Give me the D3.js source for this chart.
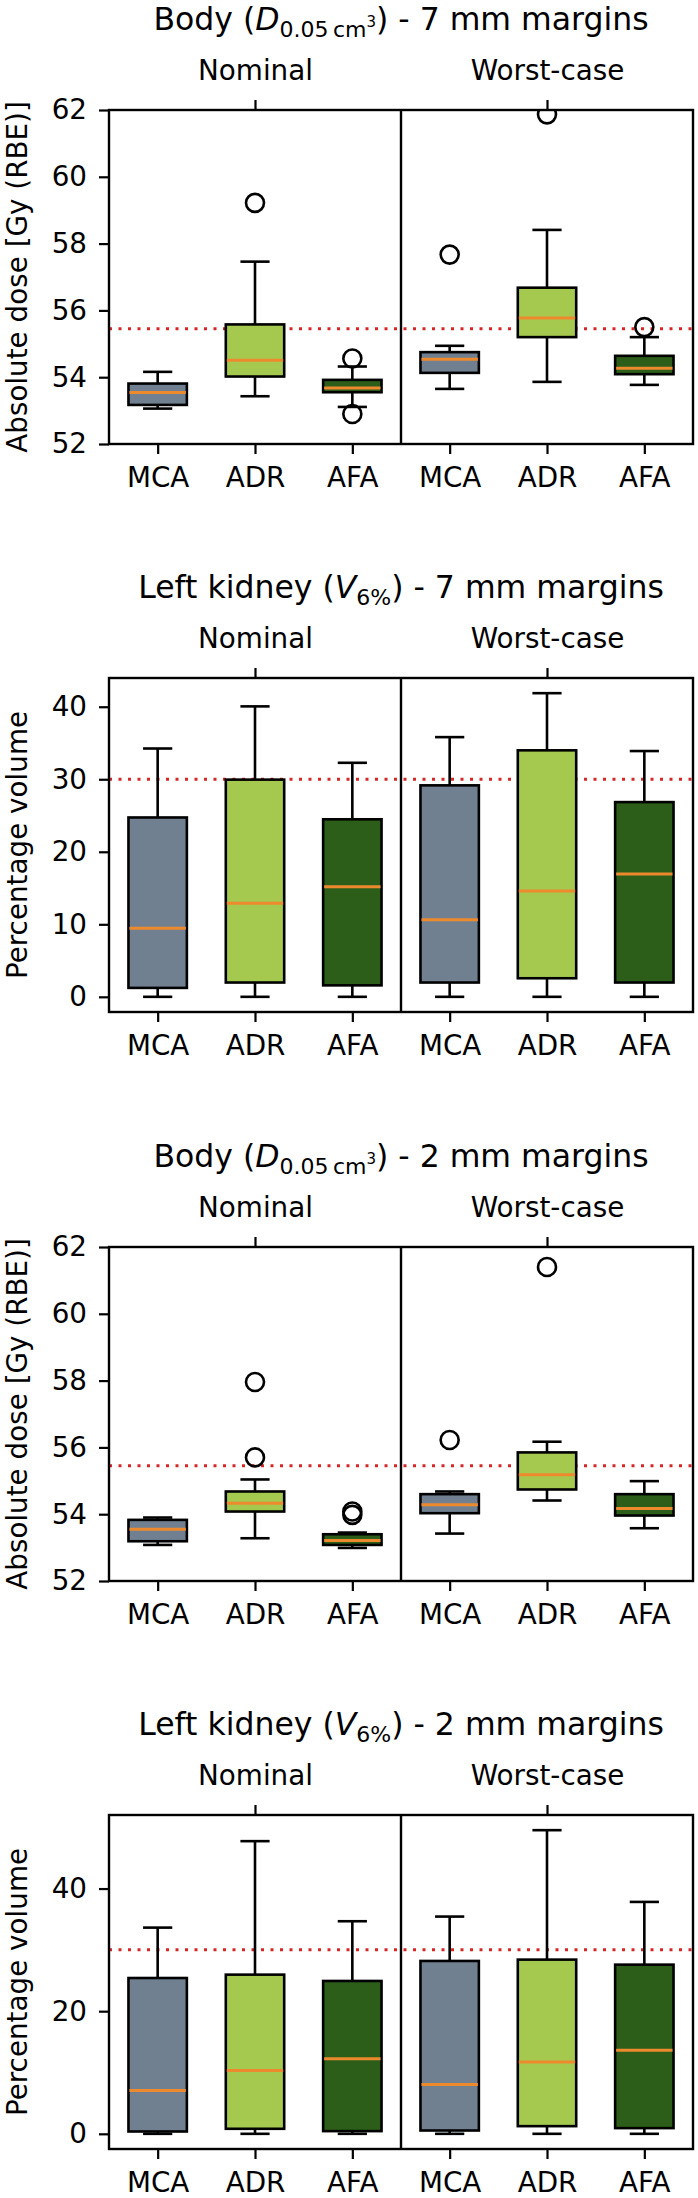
<!DOCTYPE html>
<html>
<head>
<meta charset="utf-8">
<script src="https://cdn.jsdelivr.net/npm/d3@7"></script>
<style>
  body { margin: 0; background: #fff; }
  text { font-family: "DejaVu Sans", sans-serif; fill: #000; }
</style>
</head>
<body>
<div id="chart"></div>
<script>
var fullwidth = 698,
    fullheight = 2198;

var groups = ["MCA", "ADR", "AFA", "MCA", "ADR", "AFA"];
var scenarios = ["Nominal", "Worst-case"];
var boxColors = ["#708090", "#a5c94f", "#2c5e1a"];

// each box: [lower whisker, q1, median, q3, upper whisker, outliers]
var body7mm = [
    [53.06, 53.17, 53.54, 53.81, 54.16, []],
    [53.43, 54.02, 54.51, 55.58, 57.46, [59.22]],
    [53.11, 53.55, 53.68, 53.92, 54.32, [54.56, 52.90]],
    [53.65, 54.13, 54.54, 54.75, 54.94, [57.67]],
    [53.86, 55.20, 55.77, 56.68, 58.41, [61.87]],
    [53.77, 54.09, 54.27, 54.64, 55.20, [55.50]]
];
var kidney7mm = [
    [0, 1.23, 9.46, 24.73, 34.24, []],
    [0, 1.97, 12.9, 29.95, 40.05, []],
    [0, 1.58, 15.17, 24.48, 32.27, []],
    [0, 1.97, 10.64, 29.16, 35.81, []],
    [0, 2.56, 14.58, 33.99, 41.87, []],
    [0, 1.97, 16.95, 26.85, 33.89, []]
];
var body2mm = [
    [53.08, 53.19, 53.55, 53.83, 53.90, []],
    [53.28, 54.08, 54.33, 54.68, 55.04, [57.96, 55.70]],
    [52.99, 53.08, 53.21, 53.40, 53.45, [54.08, 53.98]],
    [53.42, 54.03, 54.28, 54.60, 54.68, [56.22]],
    [54.41, 54.74, 55.18, 55.85, 56.17, [61.40]],
    [53.58, 53.96, 54.17, 54.60, 54.99, []]
];
var kidney2mm = [
    [0, 0.38, 7.07, 25.41, 33.63, []],
    [0, 0.82, 10.34, 25.96, 47.73, []],
    [0, 0.44, 12.24, 24.93, 34.67, []],
    [0, 0.54, 8.05, 28.19, 35.43, []],
    [0, 1.25, 11.70, 28.41, 49.52, []],
    [0, 0.93, 13.61, 27.59, 37.82, []]
];

var doseTicks = [52, 54, 56, 58, 60, 62];
var kidney7Ticks = [0, 10, 20, 30, 40];
var kidney2Ticks = [0, 20, 40];
var doseLimit = 55.45;
var volumeLimit = 30;

// matplotlib-like autoscale: data range plus 5% each side
function padded(data) {
    var vals = [];
    data.forEach(function(d){ vals.push(d[0], d[4]); vals = vals.concat(d[5]); });
    var lo = d3.min(vals), hi = d3.max(vals), m = (hi - lo) * 0.05;
    return [lo - m, hi + m];
}

var panels = [
    {id: 'p1', organ: 'Body (', sym: 'D', sub: '0.05\u2009cm', sup: '3', margin: '7', ylabel: 'Absolute dose [Gy (RBE)]',
     data: body7mm, ticks: doseTicks, domain: [52, 62], limit: doseLimit},
    {id: 'p2', organ: 'Left kidney (', sym: 'V', sub: '6%', sup: null, margin: '7', ylabel: 'Percentage volume',
     data: kidney7mm, ticks: kidney7Ticks, domain: padded(kidney7mm), limit: volumeLimit},
    {id: 'p3', organ: 'Body (', sym: 'D', sub: '0.05\u2009cm', sup: '3', margin: '2', ylabel: 'Absolute dose [Gy (RBE)]',
     data: body2mm, ticks: doseTicks, domain: [52, 62], limit: doseLimit},
    {id: 'p4', organ: 'Left kidney (', sym: 'V', sub: '6%', sup: null, margin: '2', ylabel: 'Percentage volume',
     data: kidney2mm, ticks: kidney2Ticks, domain: padded(kidney2mm), limit: volumeLimit}
];

var panelTops = [110, 678, 1247, 1815],
    height = 334;

var xScale = d3.scaleLinear()
    .domain([0.5, 6.5])
    .range([109, 693]);

var boxW = xScale(0.6) - xScale(0),
    capW = xScale(0.3) - xScale(0);

var svg = d3.select("#chart")
    .append("svg")
    .attr("width", fullwidth)
    .attr("height", fullheight);

panels.forEach(function(p, k){ drawPanel(p, panelTops[k]); });

function drawPanel(p, top) {
    var g = svg.append('g')
        .attr('transform', 'translate(0,' + top + ')');

    var yScale = d3.scaleLinear()
        .domain(p.domain)
        .range([height, 0]);

    g.append('clipPath').attr('id', 'clip-' + p.id)
        .append('rect')
        .attr('x', xScale(0.5)).attr('y', 0)
        .attr('width', xScale(6.5) - xScale(0.5))
        .attr('height', height);

    var plot = g.append('g').attr('clip-path', 'url(#clip-' + p.id + ')');

    // threshold line
    plot.append('line')
        .attr('x1', xScale(0.5)).attr('x2', xScale(6.5))
        .attr('y1', yScale(p.limit)).attr('y2', yScale(p.limit))
        .style('stroke', '#d62728')
        .style('stroke-width', 3)
        .style('stroke-dasharray', '3,6.5');

    var boxes = plot.selectAll('g.box')
        .data(p.data)
        .enter().append('g')
        .classed('box', true);

    // whiskers
    boxes.append('line')
        .attr('x1', function(d, i){ return xScale(i + 1); })
        .attr('x2', function(d, i){ return xScale(i + 1); })
        .attr('y1', function(d){ return yScale(d[0]); })
        .attr('y2', function(d){ return yScale(d[1]); });
    boxes.append('line')
        .attr('x1', function(d, i){ return xScale(i + 1); })
        .attr('x2', function(d, i){ return xScale(i + 1); })
        .attr('y1', function(d){ return yScale(d[3]); })
        .attr('y2', function(d){ return yScale(d[4]); });
    // caps
    [0, 4].forEach(function(j){
        boxes.append('line')
            .attr('x1', function(d, i){ return xScale(i + 1) - capW / 2; })
            .attr('x2', function(d, i){ return xScale(i + 1) + capW / 2; })
            .attr('y1', function(d){ return yScale(d[j]); })
            .attr('y2', function(d){ return yScale(d[j]); });
    });
    boxes.selectAll('line')
        .style('stroke', '#000')
        .style('stroke-width', 2.6);

    boxes.append('rect')
        .attr('x', function(d, i){ return xScale(i + 1) - boxW / 2; })
        .attr('width', boxW)
        .attr('y', function(d){ return yScale(d[3]); })
        .attr('height', function(d){ return yScale(d[1]) - yScale(d[3]); })
        .style('fill', function(d, i){ return boxColors[i % 3]; })
        .style('stroke', '#000')
        .style('stroke-width', 2.6);

    boxes.append('line')
        .attr('x1', function(d, i){ return xScale(i + 1) - boxW / 2 + 1; })
        .attr('x2', function(d, i){ return xScale(i + 1) + boxW / 2 - 1; })
        .attr('y1', function(d){ return yScale(d[2]); })
        .attr('y2', function(d){ return yScale(d[2]); })
        .style('stroke', '#ee8a2e')
        .style('stroke-width', 3);

    boxes.each(function(d, i){
        d3.select(this).selectAll('circle')
            .data(d[5])
            .enter().append('circle')
            .attr('cx', xScale(i + 1))
            .attr('cy', function(v){ return yScale(v); })
            .attr('r', 9)
            .style('fill', 'none')
            .style('stroke', '#000')
            .style('stroke-width', 2.6);
    });

    // frame and divider
    g.append('rect')
        .attr('x', xScale(0.5)).attr('y', 0)
        .attr('width', xScale(6.5) - xScale(0.5))
        .attr('height', height)
        .style('fill', 'none')
        .style('stroke', '#000')
        .style('stroke-width', 2.4);
    g.append('line')
        .attr('x1', xScale(3.5)).attr('x2', xScale(3.5))
        .attr('y1', 0).attr('y2', height)
        .style('stroke', '#000')
        .style('stroke-width', 2.4);

    var yAxis = d3.axisLeft(yScale).tickValues(p.ticks).tickSize(10).tickPadding(12);
    var xAxis = d3.axisBottom(xScale).tickValues([1, 2, 3, 4, 5, 6])
        .tickFormat(function(d){ return groups[d - 1]; })
        .tickSize(10).tickPadding(13);
    var topAxis = d3.axisTop(xScale).tickValues([2, 5])
        .tickFormat(function(d, i){ return scenarios[i]; })
        .tickSize(10).tickPadding(20);

    g.append('g').classed('y axis', true)
        .attr('transform', 'translate(' + xScale(0.5) + ',0)')
        .call(yAxis);
    g.append('g').classed('x axis', true)
        .attr('transform', 'translate(0,' + height + ')')
        .call(xAxis);
    g.append('g').classed('top axis', true)
        .call(topAxis);

    g.selectAll('.axis .domain').remove();
    g.selectAll('.axis line').style('stroke', '#000').style('stroke-width', 2.2);
    g.selectAll('.axis text')
        .style('font-family', '"DejaVu Sans", sans-serif')
        .style('font-size', '27.8px')
        .style('fill', '#000');

    g.append('text')
        .attr('transform', 'translate(27,' + height / 2 + ')rotate(-90)')
        .style('text-anchor', 'middle')
        .style('font-size', '27.8px')
        .text(p.ylabel);

    // title with math-style subscript
    var title = g.append('text')
        .attr('x', xScale(3.5))
        .attr('y', -80)
        .style('text-anchor', 'middle')
        .style('font-size', '31.5px');
    title.append('tspan').text(p.organ);
    title.append('tspan').style('font-style', 'italic').text(p.sym);
    title.append('tspan').attr('dy', 7).style('font-size', '22px').text(p.sub);
    var back = -7;
    if (p.sup) {
        title.append('tspan').attr('dy', -10).style('font-size', '15px').text(p.sup);
        back = 3;
    }
    title.append('tspan').attr('dy', back).text(') - ' + p.margin + ' mm margins');
}
</script>
</body>
</html>
